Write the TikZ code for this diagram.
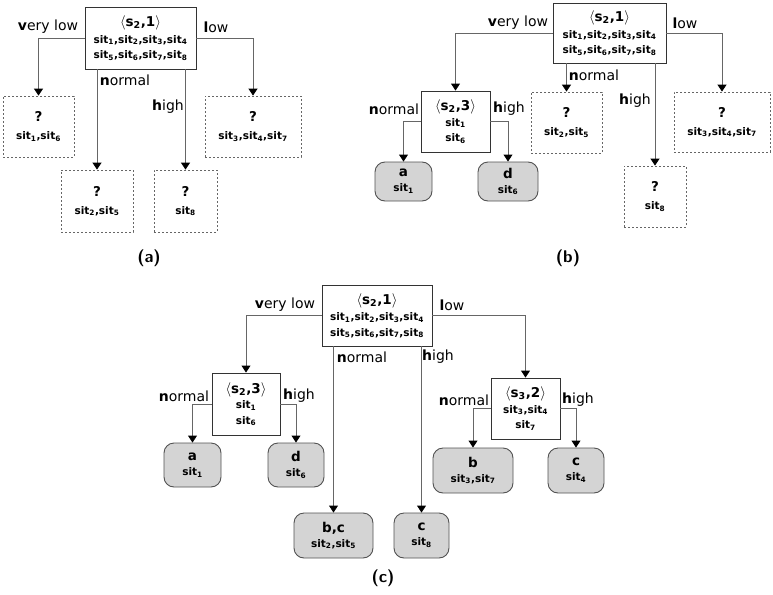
\documentclass[tikz,border=0pt]{standalone}
\usepackage{fontspec}
\setmainfont{DejaVu Sans}
\usepackage{xcolor}
\usepackage{tikz}
\usetikzlibrary{arrows.meta}
\definecolor{edgegray}{HTML}{666666}
\definecolor{boxgray}{HTML}{333333}
\definecolor{dashgray}{HTML}{666666}
\definecolor{leafgray}{HTML}{D4D4D4}
\newcommand{\sit}[1]{sit\textsubscript{#1}}
\newcommand{\stt}[2]{{\fontsize{13.5}{15}\selectfont$\langle$s\textsubscript{#1},#2$\rangle$}}
\newcommand{\unk}{{\fontsize{13.5}{15}\selectfont ?}}
\newcommand{\cls}[1]{{\fontsize{13.5}{15}\selectfont #1}}
\tikzset{
  edge/.style={-{Triangle[width=9pt,length=7pt,color=black]},draw=edgegray,line width=0.9pt},
  statebox/.style={draw=boxgray,line width=0.9pt,fill=white,align=center,inner sep=0pt,font=\fontsize{10.5}{15.5}\selectfont\bfseries},
  openbox/.style={draw=dashgray,dash pattern=on 2pt off 2pt,line width=0.8pt,align=center,inner sep=0pt,font=\fontsize{10.5}{15}\selectfont\bfseries},
  leafbox/.style={draw=boxgray!85,fill=leafgray,rounded corners=10pt,line width=0.9pt,align=center,inner sep=0pt,font=\fontsize{10.5}{15}\selectfont\bfseries},
  valuelabel/.style={inner sep=0pt,font=\fontsize{14}{14}\selectfont},
  panelname/.style={inner sep=0pt,font=\sffamily\bfseries\fontsize{17}{17}\selectfont}
}
\begin{document}
\begin{tikzpicture}[x=1pt,y=-1pt]
  \useasboundingbox (0,0) rectangle (773,594);
  % (a)
  \node[statebox,minimum width=111pt,minimum height=62pt] (a1) at (140.5,38)
  {\stt{2}{1}\\[1pt]\sit1,\sit2,\sit3,\sit4\\\sit5,\sit6,\sit7,\sit8};
  \node[openbox,minimum width=71pt,minimum height=61pt] (a2) at (38.5,126.5) {\unk\\[3pt]\sit1,\sit6};
  \node[openbox,minimum width=72pt,minimum height=62pt] (a3) at (97,201) {\unk\\[3pt]\sit2,\sit5};
  \node[openbox,minimum width=63pt,minimum height=62pt] (a4) at (185.5,201) {\unk\\[3pt]\sit8};
  \node[openbox,minimum width=96pt,minimum height=61pt] (a5) at (253,126.5) {\unk\\[3pt]\sit3,\sit4,\sit7};
  \draw[edge] (a1.west) -| (a2.north);
  \draw[edge] (a1.east) -| (a5.north);
  \draw[edge] (a1.south -| a3.north) -- (a3.north);
  \draw[edge] (a1.south -| a4.north) -- (a4.north);
  \node[valuelabel] (la2) at (48,27) {\textbf{v}ery low};
  \node[valuelabel] (la5) at (216,27) {\textbf{l}ow};
  \node[valuelabel] (la3) at (125,80) {\textbf{n}ormal};
  \node[valuelabel] (la4) at (168,107) {\textbf{h}igh};
  \node[panelname] (capa) at (149,258) {(a)};
  % (b)
  \node[statebox,minimum width=113pt,minimum height=60pt] (b1) at (609.5,33)
  {\stt{2}{1}\\[1pt]\sit1,\sit2,\sit3,\sit4\\\sit5,\sit6,\sit7,\sit8};
  \node[statebox,minimum width=69pt,minimum height=61pt] (b2) at (455.5,121.5) {\stt{2}{3}\\\sit1\\\sit6};
  \node[openbox,minimum width=71pt,minimum height=61pt] (b3) at (566.5,122.5) {\unk\\[3pt]\sit2,\sit5};
  \node[openbox,minimum width=62pt,minimum height=61pt] (b4) at (655,196.5) {\unk\\[3pt]\sit8};
  \node[openbox,minimum width=96pt,minimum height=60pt] (b5) at (722,122) {\unk\\[3pt]\sit3,\sit4,\sit7};
  \node[leafbox,minimum width=57pt,minimum height=39pt] (b6) at (403.5,181.5) {\cls{a}\\\sit1};
  \node[leafbox,minimum width=60pt,minimum height=39pt] (b7) at (508,181.5) {\cls{d}\\\sit6};
  \draw[edge] (b1.west) -| (b2.north);
  \draw[edge] (b1.east) -| (b5.north);
  \draw[edge] (b1.south -| b3.north) -- (b3.north);
  \draw[edge] (b1.south -| b4.north) -- (b4.north);
  \draw[edge] (b2.west) -| (b6.north);
  \draw[edge] (b2.east) -| (b7.north);
  \node[valuelabel] (lb2) at (518,23) {\textbf{v}ery low};
  \node[valuelabel] (lb5) at (685,23) {\textbf{l}ow};
  \node[valuelabel] (lb3) at (594,75) {\textbf{n}ormal};
  \node[valuelabel] (lb4) at (635,101) {\textbf{h}igh};
  \node[valuelabel] (lb6) at (394,109) {\textbf{n}ormal};
  \node[valuelabel] (lb7) at (509,109) {\textbf{h}igh};
  \node[panelname] (capb) at (568,258) {(b)};
  % (c)
  \node[statebox,minimum width=110pt,minimum height=61pt] (c1) at (377,315.5)
  {\stt{2}{1}\\[1pt]\sit1,\sit2,\sit3,\sit4\\\sit5,\sit6,\sit7,\sit8};
  \node[statebox,minimum width=68pt,minimum height=62pt] (c2) at (246,404) {\stt{2}{3}\\\sit1\\\sit6};
  \node[statebox,minimum width=69pt,minimum height=61pt] (c5) at (525.5,408.5) {\stt{3}{2}\\\sit3,\sit4\\\sit7};
  \node[leafbox,minimum width=79pt,minimum height=45pt] (c3) at (333.5,535.5) {\cls{b,c}\\\sit2,\sit5};
  \node[leafbox,minimum width=55pt,minimum height=45pt] (c4) at (421.5,535.5) {\cls{c}\\\sit8};
  \node[leafbox,minimum width=57pt,minimum height=44pt] (c6) at (192.5,465) {\cls{a}\\\sit1};
  \node[leafbox,minimum width=56pt,minimum height=44pt] (c7) at (296,465) {\cls{d}\\\sit6};
  \node[leafbox,minimum width=80pt,minimum height=45pt] (c8) at (473,470.5) {\cls{b}\\\sit3,\sit7};
  \node[leafbox,minimum width=56pt,minimum height=45pt] (c9) at (576,470.5) {\cls{c}\\\sit4};
  \draw[edge] (c1.west) -| (c2.north);
  \draw[edge] (c1.east) -| (c5.north);
  \draw[edge] (c1.south -| c3.north) -- (c3.north);
  \draw[edge] (c1.south -| c4.north) -- (c4.north);
  \draw[edge] (c2.west) -| (c6.north);
  \draw[edge] (c2.east) -| (c7.north);
  \draw[edge] (c5.west) -| (c8.north);
  \draw[edge] (c5.east) -| (c9.north);
  \node[valuelabel] (lc2) at (285,305) {\textbf{v}ery low};
  \node[valuelabel] (lc5) at (452,305) {\textbf{l}ow};
  \node[valuelabel] (lc3) at (362,357) {\textbf{n}ormal};
  \node[valuelabel] (lc4) at (438,357) {\textbf{h}igh};
  \node[valuelabel] (lc6) at (184,396) {\textbf{n}ormal};
  \node[valuelabel] (lc7) at (299,396) {\textbf{h}igh};
  \node[valuelabel] (lc8) at (464,400) {\textbf{n}ormal};
  \node[valuelabel] (lc9) at (578,400) {\textbf{h}igh};
  \node[panelname] (capc) at (383,578) {(c)};
\end{tikzpicture}
\end{document}
